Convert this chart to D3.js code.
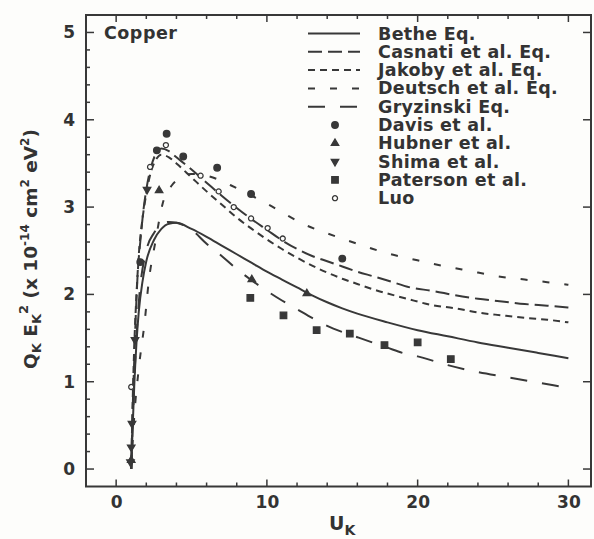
<!DOCTYPE html>
<html>
<head>
<meta charset="utf-8">
<script src="https://cdn.jsdelivr.net/npm/d3@7"></script>
<style>
  body { margin: 0; background: #fdfdfb; }
  svg { display: block; }
  text { font-family: "DejaVu Sans", sans-serif; font-weight: bold; fill: #333; }
</style>
</head>
<body>
<div id="chart"></div>
<script>
// Calculated curves: [U_K, Q_K E_K^2]
const bethe = [[1.0,0],[1.1,0.5],[1.2,0.95],[1.35,1.45],[1.5,1.8],[1.75,2.15],[2.0,2.38],[2.5,2.62],[3.0,2.75],[3.5,2.81],[4,2.82],[5,2.75],[6,2.66],[7,2.56],[8,2.46],[9,2.36],[10,2.26],[11,2.17],[12,2.08],[13,1.99],[14,1.91],[15,1.84],[16,1.78],[18,1.68],[20,1.59],[22,1.52],[24,1.45],[26,1.39],[28,1.33],[30,1.27]];
const casnati = [[1.0,0],[1.1,0.7],[1.2,1.25],[1.3,1.75],[1.45,2.3],[1.6,2.6],[1.8,2.95],[2.0,3.2],[2.3,3.45],[2.6,3.6],[3.0,3.67],[3.5,3.64],[4,3.57],[5,3.43],[6,3.28],[7,3.13],[8,2.99],[9,2.86],[10,2.74],[11,2.62],[12,2.52],[13,2.44],[14,2.38],[15,2.32],[16,2.26],[17,2.21],[18,2.16],[19.5,2.08],[21,2.04],[22.5,1.99],[24,1.95],[25.6,1.92],[27.1,1.89],[28.6,1.87],[30,1.85]];
const jakoby = [[1.0,0],[1.1,0.8],[1.2,1.4],[1.35,2.0],[1.5,2.45],[1.7,2.8],[2.0,3.15],[2.3,3.4],[2.6,3.53],[3.0,3.6],[3.5,3.57],[4,3.5],[5,3.34],[6,3.18],[7,3.03],[8,2.88],[9,2.75],[10,2.63],[11,2.52],[12,2.42],[13,2.33],[14,2.25],[15,2.18],[16,2.12],[17,2.06],[18,2.01],[19.3,1.95],[20.9,1.88],[22.5,1.84],[24.1,1.79],[25.6,1.76],[27.2,1.73],[28.6,1.71],[30,1.68]];
const deutsch = [[1.0,0],[1.2,0.6],[1.5,1.15],[1.9,1.7],[2.15,2.13],[2.6,2.6],[3.1,3.05],[3.7,3.25],[4.3,3.34],[5,3.38],[6,3.36],[7,3.3],[7.6,3.25],[9,3.13],[10,3.04],[11.3,2.91],[12.5,2.8],[14,2.7],[15.3,2.62],[16.7,2.54],[18,2.47],[19.5,2.41],[21,2.35],[22.5,2.3],[24,2.25],[25.6,2.2],[27.1,2.17],[28.6,2.14],[30,2.11]];
const gryzinski = [[1.0,0],[1.2,1.0],[1.5,1.9],[2.0,2.5],[2.5,2.7],[3.0,2.8],[3.5,2.83],[4,2.82],[5,2.74],[6,2.58],[7,2.44],[8,2.29],[9,2.16],[10,2.04],[11,1.93],[12,1.83],[13,1.73],[14,1.64],[15,1.57],[16,1.51],[17,1.45],[18,1.39],[19,1.33],[20,1.29],[22,1.19],[24,1.11],[26,1.05],[28,0.99],[30,0.93]];

// Measurements
const davis = [[1.6,2.37],[2.7,3.65],[3.35,3.84],[4.45,3.58],[6.7,3.45],[8.95,3.15],[15.0,2.41]];
const hubner = [[1.0,0.1],[2.85,3.19],[9.0,2.17],[12.65,2.01]];
const shima = [[0.95,0.08],[1.0,0.25],[1.05,0.52],[1.25,1.48],[2.05,3.2]];
const paterson = [[8.9,1.96],[11.1,1.76],[13.3,1.59],[15.5,1.55],[17.8,1.42],[20.0,1.45],[22.2,1.26]];
const luo = [[1.0,0.94],[2.25,3.46],[3.3,3.71],[5.6,3.36],[6.8,3.18],[7.8,3.0],[8.95,2.87],[10.05,2.76],[11.05,2.64]];

const xMajor = [0, 10, 20, 30];
const yMajor = [0, 1, 2, 3, 4, 5];

const ink = "#383838";
const width = 594, height = 539;

const svg = d3.select("#chart").append("svg")
  .attr("width", width)
  .attr("height", height);

const x = d3.scaleLinear().domain([-2, 31.5]).range([86, 591]);
const y = d3.scaleLinear().domain([-0.2, 5.2]).range([486.5, 15]);

// frame
svg.append("rect")
  .attr("x", x.range()[0]).attr("y", y.range()[1])
  .attr("width", x.range()[1] - x.range()[0])
  .attr("height", y.range()[0] - y.range()[1])
  .attr("fill", "none").attr("stroke", ink).attr("stroke-width", 2);

// ticks (inward)
const xMinor = d3.range(0, 31, 2);
const yMinor = d3.range(0, 5.01, 0.2);

const bottomAxis = d3.axisBottom(x).tickValues(xMajor).tickFormat(d3.format("d")).tickSize(0).tickPadding(9);
svg.append("g")
  .attr("transform", `translate(0,${y.range()[0]})`)
  .call(bottomAxis)
  .call(g => g.select(".domain").remove())
  .call(g => g.selectAll("text").attr("font-size", 17).attr("fill", "#333").attr("font-family", null));

const leftAxis = d3.axisLeft(y).tickValues(yMajor).tickFormat(d3.format("d")).tickSize(0).tickPadding(11);
svg.append("g")
  .attr("transform", `translate(${x.range()[0]},0)`)
  .call(leftAxis)
  .call(g => g.select(".domain").remove())
  .call(g => g.selectAll("text").attr("font-size", 17).attr("fill", "#333").attr("font-family", null));

const tickG = svg.append("g").attr("stroke", ink).attr("stroke-width", 1.5);
xMinor.forEach(v => {
  const len = v % 10 === 0 ? 7 : 4;
  tickG.append("line").attr("x1", x(v)).attr("x2", x(v))
    .attr("y1", y.range()[0]).attr("y2", y.range()[0] - len);
  tickG.append("line").attr("x1", x(v)).attr("x2", x(v))
    .attr("y1", y.range()[1]).attr("y2", y.range()[1] + len);
});
yMinor.forEach(v => {
  const major = Math.abs(v - Math.round(v)) < 1e-6;
  const len = major ? 8 : 4;
  tickG.append("line").attr("x1", x.range()[0]).attr("x2", x.range()[0] + len)
    .attr("y1", y(v)).attr("y2", y(v));
  if (major) {
    tickG.append("line").attr("x1", x.range()[1]).attr("x2", x.range()[1] - len)
      .attr("y1", y(v)).attr("y2", y(v));
  }
});

// curves
const line = d3.line().x(d => x(d[0])).y(d => y(d[1])).curve(d3.curveMonotoneX);

const series = [
  { name: "Bethe Eq.", data: bethe, dash: null },
  { name: "Casnati et al. Eq.", data: casnati, dash: "14,6" },
  { name: "Jakoby et al. Eq.", data: jakoby, dash: "7,5" },
  { name: "Deutsch et al. Eq.", data: deutsch, dash: "7,15" },
  { name: "Gryzinski Eq.", data: gryzinski, dash: "17,15" }
];

svg.append("g").selectAll("path")
  .data(series)
  .join("path")
  .attr("d", d => line(d.data))
  .attr("fill", "none")
  .attr("stroke", ink)
  .attr("stroke-width", 2)
  .attr("stroke-dasharray", d => d.dash);

// markers
const sym = {
  davis: d3.symbol().type(d3.symbolCircle).size(34),
  hubner: d3.symbol().type(d3.symbolTriangle).size(24),
  shima: d3.symbol().type(d3.symbolTriangle).size(24),
  paterson: d3.symbol().type(d3.symbolSquare).size(42),
  luo: d3.symbol().type(d3.symbolCircle).size(20)
};

const markerSets = [
  { name: "Davis et al.", data: davis, path: sym.davis, fill: ink, rot: 0 },
  { name: "Hubner et al.", data: hubner, path: sym.hubner, fill: ink, rot: 0 },
  { name: "Shima et al.", data: shima, path: sym.shima, fill: ink, rot: 180 },
  { name: "Paterson et al.", data: paterson, path: sym.paterson, fill: ink, rot: 0 },
  { name: "Luo", data: luo, path: sym.luo, fill: "#fdfdfb", rot: 0 }
];

markerSets.forEach(m => {
  svg.append("g").selectAll("path")
    .data(m.data)
    .join("path")
    .attr("d", m.path())
    .attr("transform", d => `translate(${x(d[0])},${y(d[1])}) rotate(${m.rot})`)
    .attr("fill", m.fill)
    .attr("stroke", ink)
    .attr("stroke-width", 1.3);
});

// legend
const lg = svg.append("g");
const rowY = i => 33.5 + i * 18.3;
series.forEach((s, i) => {
  lg.append("line")
    .attr("x1", 308).attr("x2", 360)
    .attr("y1", rowY(i)).attr("y2", rowY(i))
    .attr("stroke", ink).attr("stroke-width", 2)
    .attr("stroke-dasharray", s.dash);
  lg.append("text").attr("x", 378).attr("y", rowY(i) + 6)
    .attr("font-size", 17.5).attr("letter-spacing", 0.3).text(s.name);
});
markerSets.forEach((m, j) => {
  const i = j + series.length;
  lg.append("path")
    .attr("d", m.path())
    .attr("transform", `translate(335,${rowY(i)}) rotate(${m.rot})`)
    .attr("fill", m.fill).attr("stroke", ink).attr("stroke-width", 1.3);
  lg.append("text").attr("x", 378).attr("y", rowY(i) + 6)
    .attr("font-size", 17.5).attr("letter-spacing", 0.3).text(m.name);
});

svg.append("text").attr("x", 104).attr("y", 39)
  .attr("font-size", 17.5).attr("letter-spacing", 0.5).text("Copper");

// axis titles
const xt = svg.append("text").attr("x", 329).attr("y", 530).attr("font-size", 19);
xt.append("tspan").text("U");
xt.append("tspan").attr("font-size", 14).attr("dy", 5).text("K");

const yt = svg.append("text")
  .attr("transform", "translate(37,249) rotate(-90)")
  .attr("text-anchor", "middle")
  .attr("font-size", 18.5);
yt.append("tspan").text("Q");
yt.append("tspan").attr("font-size", 13).attr("dy", 4).text("K");
yt.append("tspan").attr("dy", -4).text(" E");
yt.append("tspan").attr("font-size", 13).attr("dy", 4).text("K");
yt.append("tspan").attr("font-size", 13).attr("dy", -13).text("2");
yt.append("tspan").attr("dy", 9).text(" (x 10");
yt.append("tspan").attr("font-size", 12).attr("dy", -8).text("-14");
yt.append("tspan").attr("dy", 8).text(" cm");
yt.append("tspan").attr("font-size", 12).attr("dy", -8).text("2");
yt.append("tspan").attr("dy", 8).text(" eV");
yt.append("tspan").attr("font-size", 12).attr("dy", -8).text("2");
yt.append("tspan").attr("dy", 8).text(")");
</script>
</body>
</html>
